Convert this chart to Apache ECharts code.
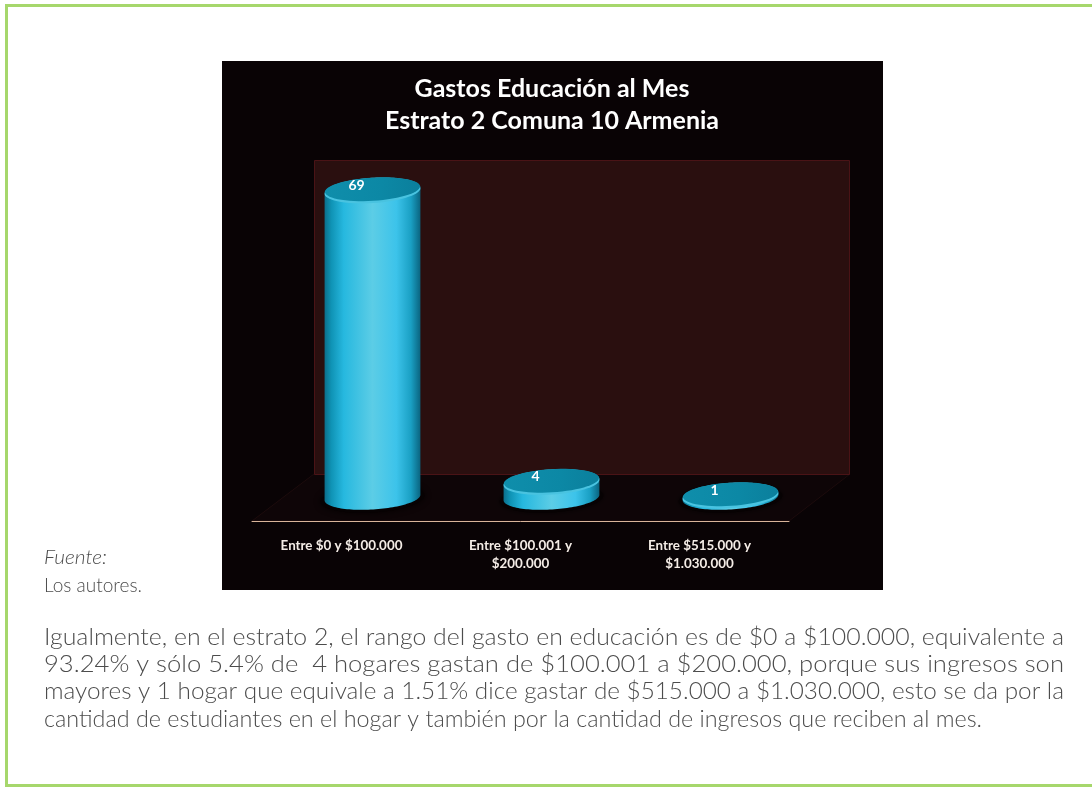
<!DOCTYPE html>
<html>
<head>
<meta charset="utf-8">
<style>html,body{margin:0;padding:0;background:#fff}#c{width:1092px;height:788px}</style>
<script src="https://cdn.jsdelivr.net/npm/echarts@6/dist/echarts.min.js"></script>
</head>
<body>
<div id="c"></div>
<script>
const categories = ['Entre $0 y $100.000', 'Entre $100.001 y\n$200.000', 'Entre $515.000 y\n$1.030.000'];
const values = [69, 4, 1];
const titleLines = ['Gastos Educación al Mes', 'Estrato 2 Comuna 10 Armenia'];
const sourceLabel = 'Fuente:';
const sourceText = 'Los autores.';
const paragraph = [
  'Igualmente, en el estrato 2, el rango del gasto en educación es de $0 a $100.000, equivalente a',
  '93.24% y sólo 5.4% de  4 hogares gastan de $100.001 a $200.000, porque sus ingresos son',
  'mayores y 1 hogar que equivale a 1.51% dice gastar de $515.000 a $1.030.000, esto se da por la',
  'cantidad de estudiantes en el hogar y también por la cantidad de ingresos que reciben al mes.'
];

const chart = echarts.init(document.getElementById('c'), null, {renderer: 'canvas'});
const bodyFont = 'Lato, "Noto Sans", sans-serif';
const bodyColor = '#4c4c4c';

const mctx = document.createElement('canvas').getContext('2d');
function fitText(text, x, y, width, size, extra) {
  const style = extra && extra.fontStyle ? extra.fontStyle : 'normal';
  mctx.font = style + ' 300 ' + size + 'px ' + bodyFont;
  const w = mctx.measureText(text).width;
  return {
    type: 'text', x: x, y: y, scaleX: width / w, silent: true,
    style: {text: text, font: style + ' 300 ' + size + 'px ' + bodyFont, fill: bodyColor, textAlign: 'left', textVerticalAlign: 'middle'}
  };
}

const DEPTH_X = 31, DEPTH_Y = -23.5, RX = 48, RY = 12, TILT = -0.062, TOP_SHIFT = 1.8;
function ell(cx, cy, t, rx, ry) {
  const px = rx * Math.cos(t), py = ry * Math.sin(t);
  return [cx + px * Math.cos(TILT) - py * Math.sin(TILT), cy + px * Math.sin(TILT) + py * Math.cos(TILT)];
}
function ellPts(cx, cy, a, b, rx, ry) {
  const out = [];
  for (let i = 0; i <= 60; i++) out.push(ell(cx, cy, a + (b - a) * i / 60, rx, ry));
  return out;
}
const bodyGrad = new echarts.graphic.LinearGradient(0, 0, 1, 0, [
  {offset: 0, color: '#0b6f8c'}, {offset: 0.07, color: '#0f93b5'}, {offset: 0.2, color: '#26b8df'},
  {offset: 0.5, color: '#5ccde6'}, {offset: 0.75, color: '#3cc3ea'},
  {offset: 0.9, color: '#1aa0c4'}, {offset: 1, color: '#0a6480'}
]);
const topGrad = new echarts.graphic.LinearGradient(0, 0, 1, 0.3, [
  {offset: 0, color: '#0f8eab'}, {offset: 0.6, color: '#0c88a5'}, {offset: 1, color: '#0b7f9c'}
]);

function renderCyl(params, api) {
  const i = api.value(0), v = api.value(1);
  const base = api.coord([i, 0]), top = api.coord([i, v]);
  const cx = base[0] + DEPTH_X, by = base[1] + DEPTH_Y, ty = top[1] + DEPTH_Y + TOP_SHIFT;
  const body = ellPts(cx, ty, Math.PI, 2 * Math.PI, RX, RY).concat(ellPts(cx, by, 0, Math.PI, RX, RY));
  return {
    type: 'group',
    children: [
      {type: 'polygon', shape: {points: ellPts(cx, by + 1, 0, 2 * Math.PI, RX + 4, RY + 2)},
        style: {fill: '#070203', shadowBlur: 6, shadowColor: '#050102'}},
      {type: 'polygon', shape: {points: body}, style: {fill: bodyGrad}},
      {type: 'polygon', shape: {points: ellPts(cx, ty + 1.2, 0, 2 * Math.PI, RX, RY)}, style: {fill: '#49c3e0'}},
      {type: 'polygon', shape: {points: ellPts(cx, ty - 0.6, 0, 2 * Math.PI, RX - 0.5, RY - 0.4)}, style: {fill: topGrad}},
      {type: 'text', x: cx - 16, y: ty - 4.5,
        style: {text: String(v), font: 'bold 14px Lato, sans-serif', fill: '#fff', textAlign: 'center', textVerticalAlign: 'middle'}}
    ]
  };
}

chart.setOption({
  animation: false,
  backgroundColor: '#fff',
  grid: {left: 252, width: 537, top: 162.2, height: 358.8},
  xAxis: {
    type: 'category', data: categories,
    axisLine: {lineStyle: {color: '#d8b49a', width: 1}},
    axisTick: {show: false},
    axisLabel: {color: '#f4ece6', fontFamily: 'Lato, sans-serif', fontWeight: 'bold', fontSize: 13.4, lineHeight: 18, margin: 16, interval: 0}
  },
  yAxis: {type: 'value', min: 0, max: 80, show: false, splitLine: {show: false}},
  graphic: [
    {type: 'rect', silent: true, z: -10, shape: {x: 6.5, y: 5.5, width: 1200, height: 780}, style: {fill: 'none', stroke: '#a6d76c', lineWidth: 3}},
    {type: 'rect', silent: true, z: -9, shape: {x: 222, y: 61, width: 661, height: 529}, style: {fill: '#090305'}},
    {type: 'polygon', silent: true, z: -8, shape: {points: [[252, 521], [789, 521], [850, 474], [314, 474]]}, style: {fill: '#0e0507', stroke: '#1c0b0c', lineWidth: 1}},
    {type: 'rect', silent: true, z: -7, shape: {x: 314.5, y: 160.5, width: 535, height: 314}, style: {fill: '#2a0f0f', stroke: '#4a1316', lineWidth: 1}},
    {type: 'text', silent: true, x: 552, y: 89, style: {text: titleLines[0], font: 'bold 25px Lato, sans-serif', fill: '#fff', textAlign: 'center', textVerticalAlign: 'middle'}},
    {type: 'text', silent: true, x: 552, y: 121, style: {text: titleLines[1], font: 'bold 25px Lato, sans-serif', fill: '#fff', textAlign: 'center', textVerticalAlign: 'middle'}},
    fitText(sourceLabel, 44, 558, 63, 19, {fontStyle: 'italic'}),
    fitText(sourceText, 44, 586, 98, 19),
    fitText(paragraph[0], 44, 638, 1020, 23),
    fitText(paragraph[1], 44, 665, 1020, 23),
    fitText(paragraph[2], 44, 692, 1020, 23),
    fitText(paragraph[3], 44, 720, 938, 23)
  ],
  series: [{
    type: 'custom',
    coordinateSystem: 'cartesian2d',
    renderItem: renderCyl,
    encode: {x: 0, y: 1},
    data: values.map((v, i) => [i, v])
  }]
});
</script>
</body>
</html>
